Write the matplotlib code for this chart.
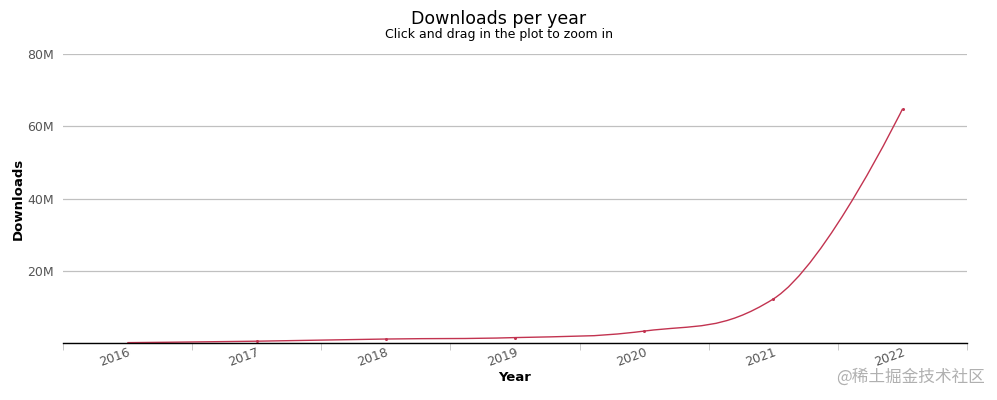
import numpy as np
import matplotlib
matplotlib.use("Agg")
import matplotlib.pyplot as plt
from matplotlib.path import Path
from matplotlib.patches import PathPatch

years = ['2016', '2017', '2018', '2019', '2020', '2021', '2022']
downloads = [0.1e6, 0.5e6, 1.1e6, 1.5e6, 3.3e6, 12.2e6, 64.8e6]

line_color = '#c23350'

# Highcharts-like spline control points
def spline_path(xs, ys, smoothing=1.5):
    denom = smoothing + 1
    n = len(xs)
    verts = [(xs[0], ys[0])]
    codes = [Path.MOVETO]
    ctrl = []
    for i in range(n):
        if 0 < i < n - 1:
            lx = (smoothing * xs[i] + xs[i - 1]) / denom
            ly = (smoothing * ys[i] + ys[i - 1]) / denom
            rx = (smoothing * xs[i] + xs[i + 1]) / denom
            ry = (smoothing * ys[i] + ys[i + 1]) / denom
            corr = ((ry - ly) * (rx - xs[i])) / (rx - lx) + ys[i] - ry
            ly += corr
            ry += corr
            if ly > max(ys[i - 1], ys[i]):
                ly = max(ys[i - 1], ys[i]); ry = 2 * ys[i] - ly
            elif ly < min(ys[i - 1], ys[i]):
                ly = min(ys[i - 1], ys[i]); ry = 2 * ys[i] - ly
            if ry > max(ys[i + 1], ys[i]):
                ry = max(ys[i + 1], ys[i]); ly = 2 * ys[i] - ry
            elif ry < min(ys[i + 1], ys[i]):
                ry = min(ys[i + 1], ys[i]); ly = 2 * ys[i] - ry
            ctrl.append(((lx, ly), (rx, ry)))
        else:
            ctrl.append(((xs[i], ys[i]), (xs[i], ys[i])))
    for i in range(1, n):
        verts += [ctrl[i - 1][1], ctrl[i][0], (xs[i], ys[i])]
        codes += [Path.CURVE4] * 3
    return Path(verts, codes)

fig = plt.figure(figsize=(9.97, 4), dpi=100)
ax = fig.add_axes([0.0632, 0.1425, 0.9068, 0.7225])

x = np.arange(len(years))
ax.add_patch(PathPatch(spline_path(x, downloads), facecolor='none',
                       edgecolor=line_color, lw=1.0))
ax.plot(x, downloads, 'o', color=line_color, ms=2.2, mec='none')

ax.set_xlim(-0.5, len(years) - 0.5)
ax.set_ylim(0, 80e6)
ax.set_yticks([0, 20e6, 40e6, 60e6, 80e6])
ax.set_yticklabels(['', '20M', '40M', '60M', '80M'], color='#555555', fontsize=9)
ax.grid(axis='y', color='#c0c0c0', lw=0.9)
ax.set_axisbelow(True)
ax.tick_params(axis='y', length=0, pad=6.5)

ax.set_xticks(x)
ax.set_xticklabels(years, rotation=20, ha='right', rotation_mode='anchor',
                   color='#555555', fontsize=9)
ax.set_xticks(np.arange(-0.5, len(years)), minor=True)
ax.tick_params(axis='x', which='major', length=0, pad=2)
ax.tick_params(axis='x', which='minor', length=5, color='#c0c0c0')

for s in ['top', 'right', 'left']:
    ax.spines[s].set_visible(False)
ax.spines['bottom'].set_color('black')
ax.spines['bottom'].set_linewidth(1.0)

ax.set_xlabel('Year', fontweight='bold', fontsize=9.5, labelpad=1.5)
ax.set_ylabel('Downloads', fontweight='bold', fontsize=9.5, labelpad=2)

fig.text(0.5, 0.953, 'Downloads per year', ha='center', va='center', fontsize=12.5)
fig.text(0.5, 0.913, 'Click and drag in the plot to zoom in', ha='center',
         va='center', fontsize=9)
fig.text(0.988, 0.057, '@稀土掘金技术社区', ha='right', va='center', fontsize=12,
         color='#b0b0b0', family=['Noto Sans CJK SC', 'DejaVu Sans'])

fig.savefig('out.png', dpi=100)
